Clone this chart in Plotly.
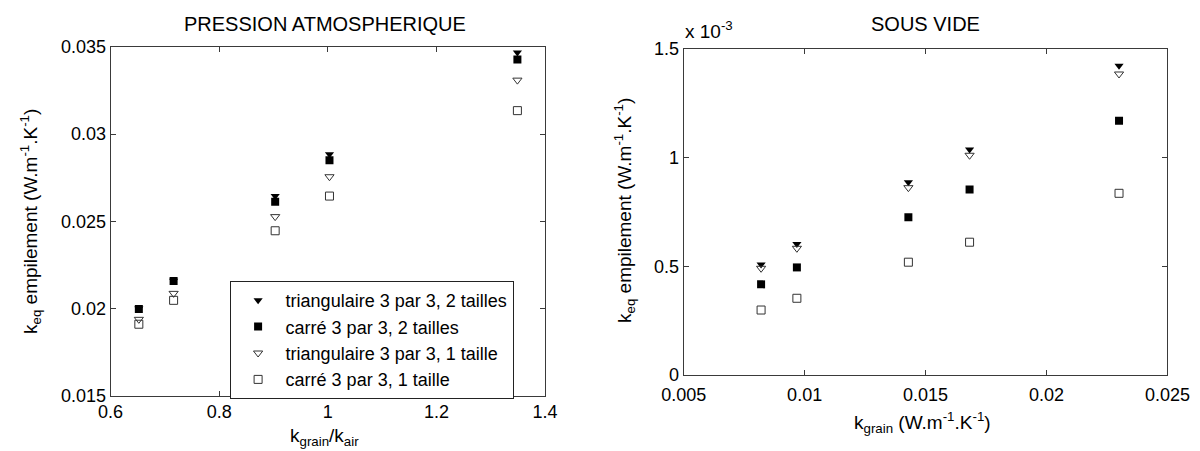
import plotly.graph_objects as go

# ---------------- data ----------------
series_names = [
    "triangulaire 3 par 3, 2 tailles",
    "carré 3 par 3, 2 tailles",
    "triangulaire 3 par 3, 1 taille",
    "carré 3 par 3, 1 taille",
]

# Left: atmospheric pressure
x_atm = [0.652, 0.716, 0.903, 1.003, 1.349]
tri2_atm = [0.0200, 0.0216, 0.02645, 0.02885, 0.03469]
sq2_atm = [0.01997, 0.02158, 0.02613, 0.02850, 0.03429]
tri1_atm = [0.01938, 0.02087, 0.02527, 0.02756, 0.03310]
sq1_atm = [0.01910, 0.02047, 0.02446, 0.02645, 0.03135]

# Right: vacuum (values in units of 1e-3 W/m/K)
x_vide = [0.0082, 0.00968, 0.01429, 0.01682, 0.0230]
tri2_vide = [0.509, 0.603, 0.887, 1.038, 1.423]
sq2_vide = [0.417, 0.495, 0.726, 0.854, 1.170]
tri1_vide = [0.491, 0.583, 0.862, 1.011, 1.385]
sq1_vide = [0.299, 0.353, 0.519, 0.611, 0.836]

x_atm_ticks = [0.6, 0.8, 1.0, 1.2, 1.4]
x_atm_ticktext = ["0.6", "0.8", "1", "1.2", "1.4"]
y_atm_ticks = [0.015, 0.02, 0.025, 0.03, 0.035]
y_atm_ticktext = ["0.015", "0.02", "0.025", "0.03", "0.035"]
x_vide_ticks = [0.005, 0.01, 0.015, 0.02, 0.025]
x_vide_ticktext = ["0.005", "0.01", "0.015", "0.02", "0.025"]
y_vide_ticks = [0, 0.5, 1.0, 1.5]
y_vide_ticktext = ["0", "0.5", "1", "1.5"]

# ---------------- style ----------------
FONT = "Arial, Liberation Sans, sans-serif"
AX = "#3a3a3a"
styles = [
    dict(symbol="triangle-down", size=8, color="black", line=dict(width=0)),
    dict(symbol="square", size=8, color="black", line=dict(width=0)),
    dict(symbol="triangle-down-open", size=8, color="#333333", line=dict(width=1)),
    dict(symbol="square-open", size=8, color="#333333", line=dict(width=1)),
]

fig = go.Figure()
for name, ys, st in zip(series_names, [tri2_atm, sq2_atm, tri1_atm, sq1_atm], styles):
    fig.add_trace(go.Scatter(x=x_atm, y=ys, mode="markers", name=name, marker=st,
                             xaxis="x", yaxis="y", showlegend=True))
for name, ys, st in zip(series_names, [tri2_vide, sq2_vide, tri1_vide, sq1_vide], styles):
    fig.add_trace(go.Scatter(x=x_vide, y=ys, mode="markers", name=name, marker=st,
                             xaxis="x2", yaxis="y2", showlegend=False))

W, H = 1200, 451
def px_x(p):
    return p / W
def px_y(p):
    return 1 - p / H

axis_common = dict(showline=True, linecolor=AX, linewidth=1, mirror="ticks",
                   ticks="inside", ticklen=5, tickcolor=AX, showgrid=False,
                   zeroline=False, automargin=False,
                   tickfont=dict(family=FONT, size=18, color="black"))

fig.update_layout(
    template="none",
    width=W, height=H,
    margin=dict(l=0, r=0, t=0, b=0, pad=0, autoexpand=False),
    paper_bgcolor="white", plot_bgcolor="white",
    font=dict(family=FONT, color="black"),
    xaxis=dict(domain=[px_x(110.6), px_x(545.1)], range=[0.6, 1.4],
               tickvals=x_atm_ticks, ticktext=x_atm_ticktext, anchor="y",
               **axis_common),
    yaxis=dict(domain=[px_y(395.7), px_y(47)], range=[0.015, 0.035],
               tickvals=y_atm_ticks, ticktext=y_atm_ticktext, anchor="x",
               **axis_common),
    xaxis2=dict(domain=[px_x(683.7), px_x(1167.4)], range=[0.005, 0.025],
                tickvals=x_vide_ticks, ticktext=x_vide_ticktext, anchor="y2",
                ticklabelstandoff=3, **axis_common),
    yaxis2=dict(domain=[px_y(375), px_y(49)], range=[0, 1.5],
                tickvals=y_vide_ticks, ticktext=y_vide_ticktext, anchor="x2",
                **axis_common),
    legend=dict(x=px_x(229.6), y=px_y(281), xanchor="left", yanchor="top",
                bgcolor="white", bordercolor="#222222", borderwidth=1,
                font=dict(family=FONT, size=18, color="black"),
                itemwidth=45),
    showlegend=True,
)

ann = []
# titles
ann.append(dict(text="PRESSION ATMOSPHERIQUE", x=px_x(325), y=px_y(24),
                font=dict(size=20)))
ann.append(dict(text="SOUS VIDE", x=px_x(925), y=px_y(24), font=dict(size=20)))
# exponent label
ann.append(dict(text="x 10<sup>-3</sup>", x=px_x(683), y=px_y(44), xanchor="left",
                yanchor="bottom", font=dict(size=19)))
# axis titles
ann.append(dict(text="k<sub>grain</sub>/k<sub>air</sub>", x=px_x(324), y=px_y(437),
                font=dict(size=19)))
ann.append(dict(text="k<sub>grain</sub> (W.m<sup>-1</sup>.K<sup>-1</sup>)", x=px_x(922),
                y=px_y(422), font=dict(size=19)))
ann.append(dict(text="k<sub>eq</sub> empilement (W.m<sup>-1</sup>.K<sup>-1</sup>)",
                x=px_x(31), y=px_y(222), textangle=-90, font=dict(size=19)))
ann.append(dict(text="k<sub>eq</sub> empilement (W.m<sup>-1</sup>.K<sup>-1</sup>)",
                x=px_x(625), y=px_y(211), textangle=-90, font=dict(size=19)))
for a in ann:
    a.setdefault("xanchor", "center")
    a.setdefault("yanchor", "middle")
    a.update(xref="paper", yref="paper", showarrow=False)
    a["font"] = dict(family=FONT, color="black", **a["font"])
fig.update_layout(annotations=ann)

fig.write_html("out.html")
